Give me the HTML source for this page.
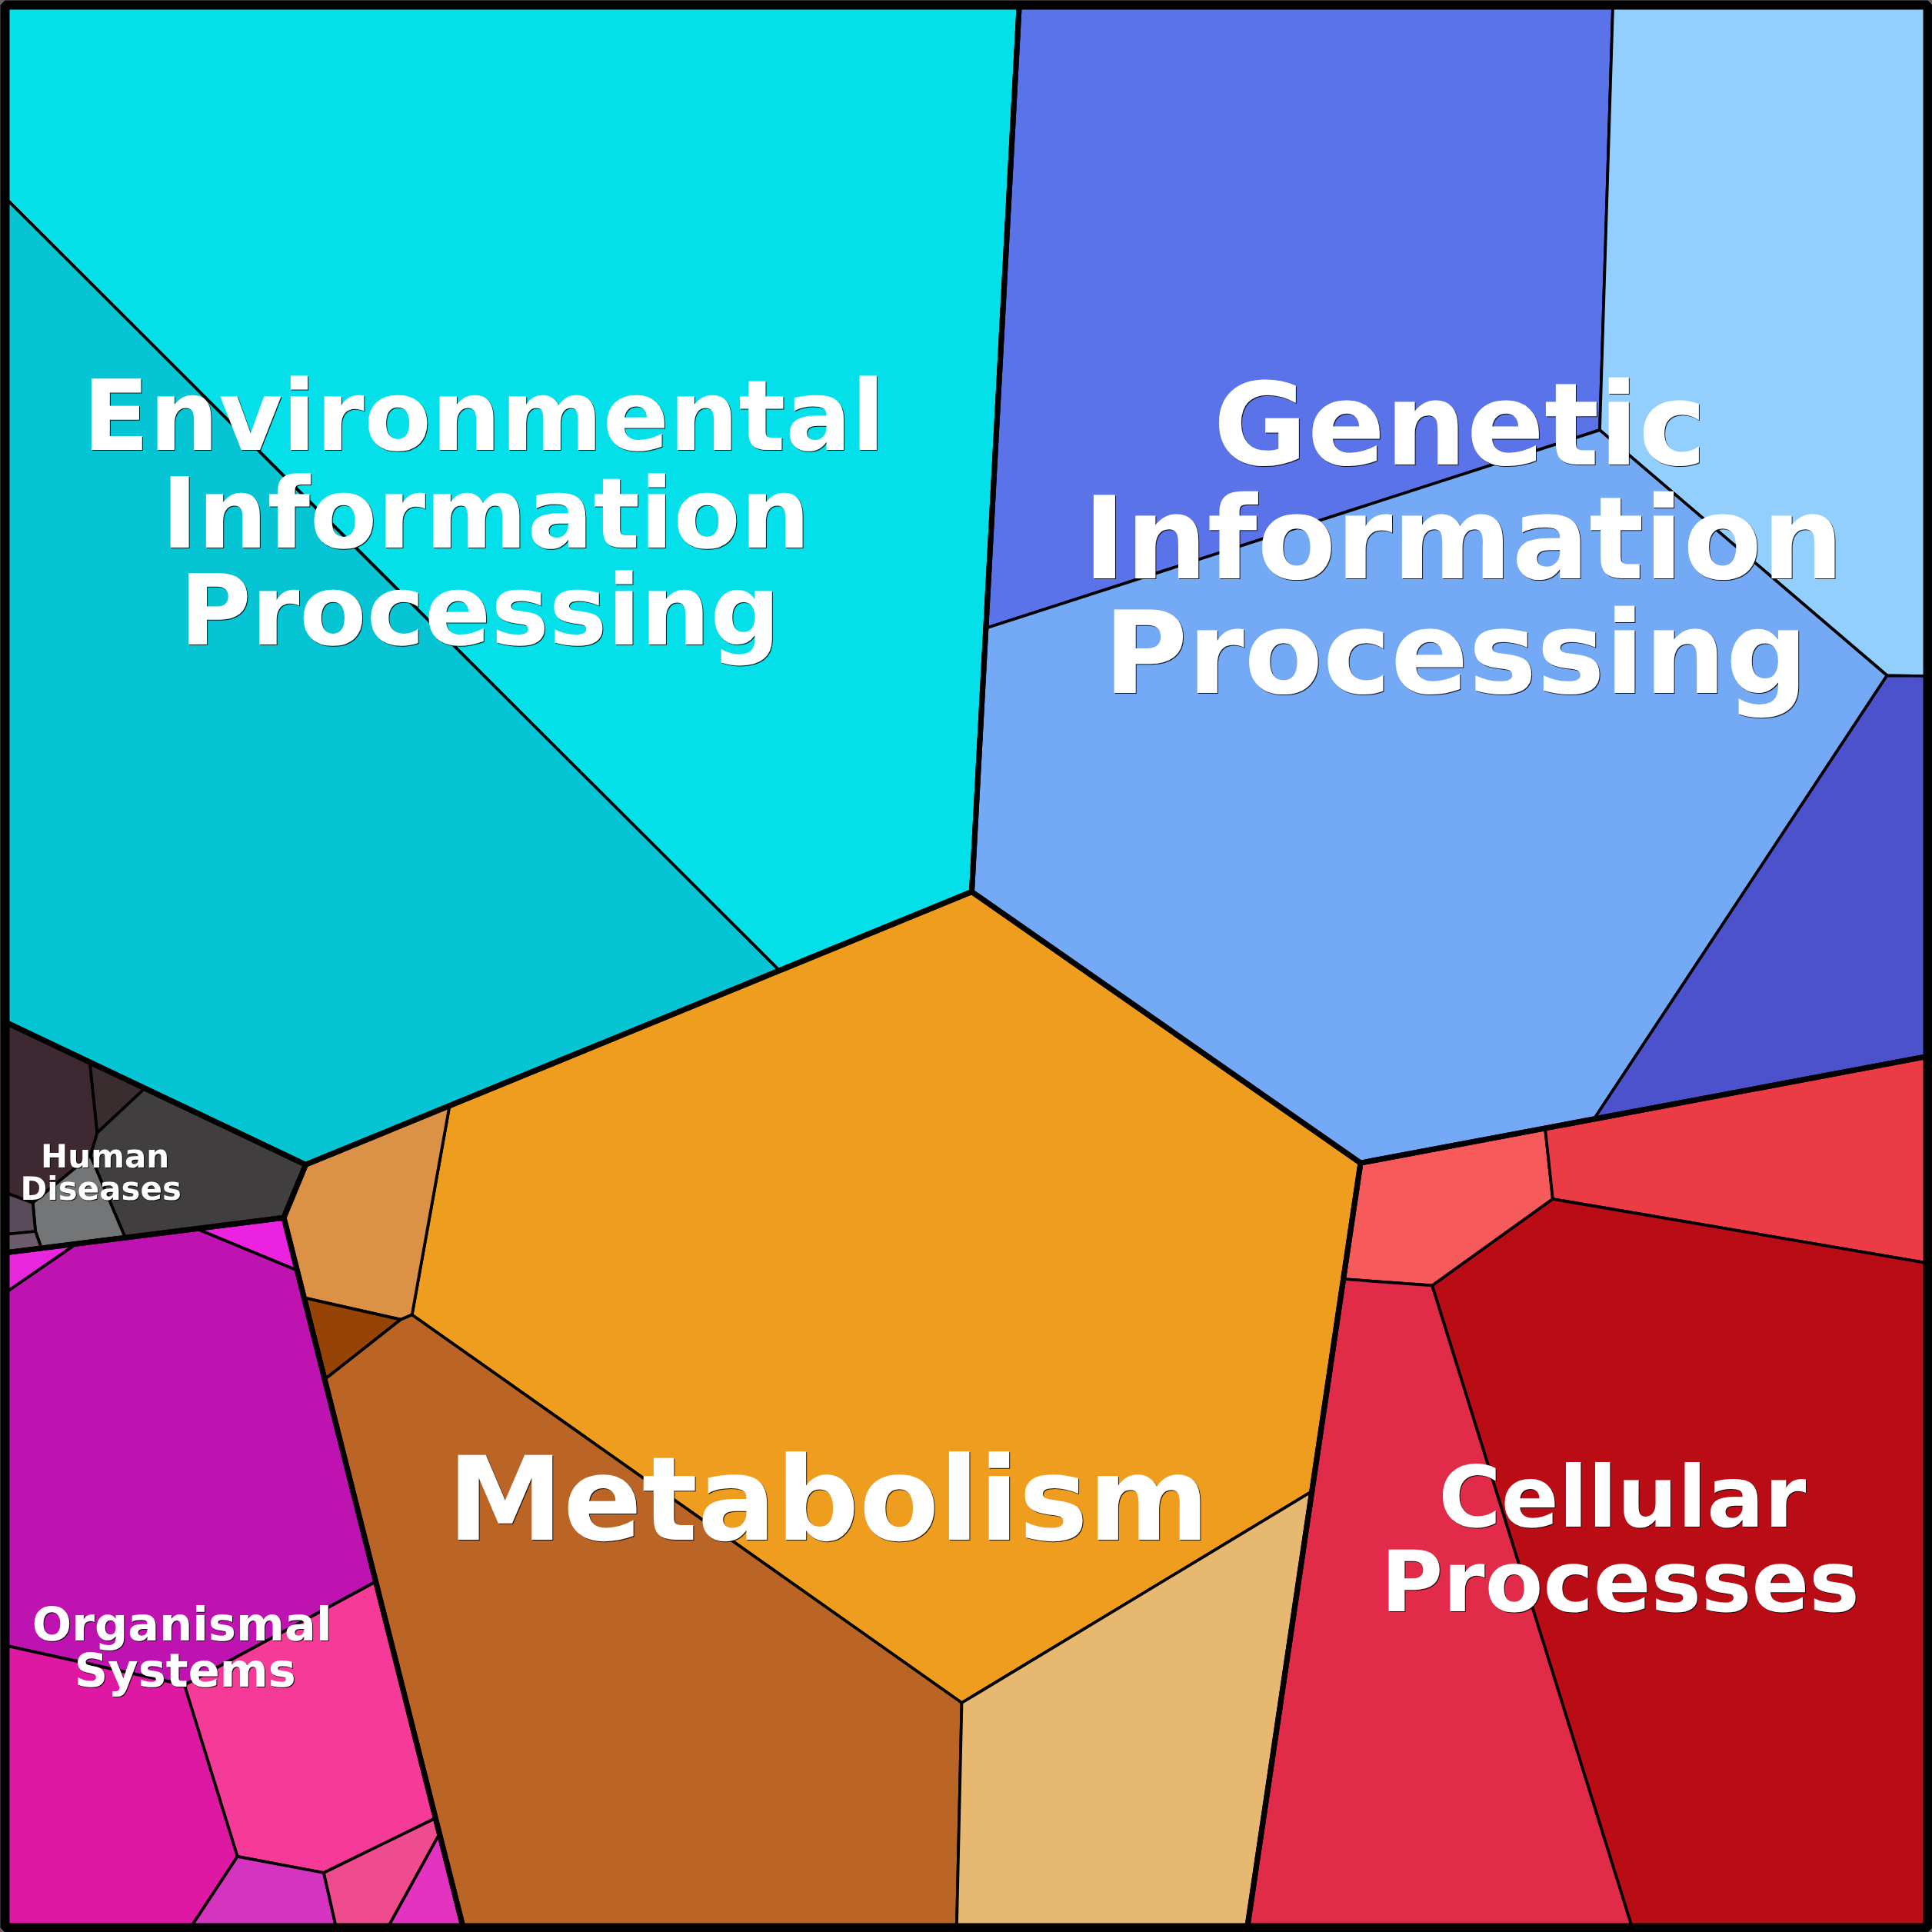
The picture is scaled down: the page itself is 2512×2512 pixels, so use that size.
<!DOCTYPE html>
<html lang="en">
<head>
<meta charset="utf-8">
<title>Voronoi treemap</title>
<style>
html,body{margin:0;padding:0;background:#666;}
body{width:2512px;height:2512px;overflow:hidden;}
svg{display:block;will-change:transform;}
.sub polygon{stroke:#000;stroke-width:3.75;stroke-linejoin:round;}
.top polygon{fill:none;stroke:#000;stroke-width:7.0;stroke-linejoin:round;}
.frame{fill:none;stroke:#000;stroke-width:12;stroke-linejoin:bevel;}
text{font-family:"DejaVu Sans","Liberation Sans",sans-serif;font-weight:bold;fill:#fff;text-rendering:geometricPrecision;}
.labels{filter:drop-shadow(1.1px 1px 0 rgba(0,0,0,.85));}
</style>
</head>
<body>
<svg width="2512" height="2512" viewBox="0 0 2512 2512">
<rect x="0" y="0" width="2512" height="2512" fill="#666"/>

<g class="sub">
<polygon fill="#04e0e9" points="6.5,6.5 1325.2,6.5 1263.5,1159.5 1013.3,1261.9 6.5,256.9"/>
<polygon fill="#05c5d5" points="6.5,256.9 1013.3,1261.9 397.5,1514.3 6.5,1328.7"/>
<polygon fill="#5a73e8" points="1325.2,6.5 2097.1,6.5 2080.0,559.1 1281.9,816.8"/>
<polygon fill="#93cffe" points="2097.1,6.5 2506.5,6.5 2506.5,879.0 2453.5,878.3 2080.0,559.1"/>
<polygon fill="#73a9f5" points="1281.9,816.8 2080.0,559.1 2453.5,878.3 2072.5,1455.0 1769.0,1512.1 1263.5,1159.5"/>
<polygon fill="#4b52cc" points="2453.5,878.3 2506.5,879.0 2506.5,1373.4 2072.5,1455.0"/>
<polygon fill="#ee9d1e" points="1263.5,1159.5 1769.0,1512.1 1705.7,1939.2 1250.5,2214.0 535.7,1709.5 584.5,1437.7"/>
<polygon fill="#db9246" points="397.5,1514.3 584.5,1437.7 535.7,1709.5 520.9,1715.7 395.4,1687.4 369.0,1583.2"/>
<polygon fill="#964306" points="395.4,1687.4 520.9,1715.7 422.2,1793.5"/>
<polygon fill="#ba6425" points="422.2,1793.5 520.9,1715.7 535.7,1709.5 1250.5,2214.0 1243.9,2506.5 602.3,2506.5"/>
<polygon fill="#e7b870" points="1250.5,2214.0 1705.7,1939.2 1621.7,2506.5 1243.9,2506.5"/>
<polygon fill="#f75a5a" points="1769.0,1512.1 2009.0,1466.9 2018.9,1559.0 1862.2,1671.4 1746.7,1663.0"/>
<polygon fill="#eb3c46" points="2009.0,1466.9 2506.5,1373.4 2506.5,1642.3 2018.9,1559.0"/>
<polygon fill="#e22b49" points="1746.7,1663.0 1862.2,1671.4 2122.3,2506.5 1621.7,2506.5"/>
<polygon fill="#ba0c15" points="1862.2,1671.4 2018.9,1559.0 2506.5,1642.3 2506.5,2506.5 2122.3,2506.5"/>
<polygon fill="#3e2933" points="6.5,1328.7 116.8,1381.1 126.4,1472.8 117.6,1502.5 42.7,1563.9 6.5,1550.4"/>
<polygon fill="#3a2d2f" points="116.8,1381.1 188.4,1415.0 126.4,1472.8"/>
<polygon fill="#413e3f" points="188.4,1415.0 397.5,1514.3 369.0,1583.2 162.8,1609.2 117.6,1502.5 126.4,1472.8"/>
<polygon fill="#747577" points="117.6,1502.5 162.8,1609.2 53.9,1622.9 46.1,1601.0 42.7,1563.9"/>
<polygon fill="#5a4b5b" points="6.5,1550.4 42.7,1563.9 46.1,1601.0 6.5,1605.0"/>
<polygon fill="#6c5c6e" points="6.5,1605.0 46.1,1601.0 53.9,1622.9 6.5,1628.9"/>
<polygon fill="#e826dd" points="6.5,1628.9 99.5,1617.2 6.5,1681.2"/>
<polygon fill="#eb22df" points="255.2,1597.5 369.0,1583.2 386.3,1651.8"/>
<polygon fill="#bf13b1" points="6.5,1681.2 99.5,1617.2 255.2,1597.5 386.3,1651.8 488.6,2056.5 239.9,2190.9 6.5,2139.4"/>
<polygon fill="#df18a4" points="6.5,2139.4 239.9,2190.9 308.8,2413.8 247.6,2506.5 6.5,2506.5"/>
<polygon fill="#f63a98" points="239.9,2190.9 488.6,2056.5 566.3,2364.0 421.0,2435.0 308.8,2413.8"/>
<polygon fill="#d434bf" points="308.8,2413.8 421.0,2435.0 437.1,2506.5 247.6,2506.5"/>
<polygon fill="#ef4c8d" points="421.0,2435.0 566.3,2364.0 571.4,2384.3 504.1,2506.5 437.1,2506.5"/>
<polygon fill="#e433c0" points="571.4,2384.3 602.3,2506.5 504.1,2506.5"/>
</g>
<g class="top">
<polygon points="6.5,6.5 1325.2,6.5 1263.5,1159.5 397.5,1514.3 6.5,1328.7"/>
<polygon points="1325.2,6.5 2506.5,6.5 2506.5,1373.4 1769.0,1512.1 1263.5,1159.5"/>
<polygon points="1263.5,1159.5 1769.0,1512.1 1621.7,2506.5 602.3,2506.5 369.0,1583.2 397.5,1514.3"/>
<polygon points="1769.0,1512.1 2506.5,1373.4 2506.5,2506.5 1621.7,2506.5"/>
<polygon points="6.5,1328.7 397.5,1514.3 369.0,1583.2 6.5,1628.9"/>
<polygon points="6.5,1628.9 369.0,1583.2 602.3,2506.5 6.5,2506.5"/>
</g>
<polygon class="frame" points="6.5,6.5 2506.5,6.5 2506.5,2506.5 6.5,2506.5"/>
<g class="labels">
<text x="107.2" y="585.0" font-size="127.1">Environmental</text>
<text x="210.0" y="712.0" font-size="127.1">Information</text>
<text x="233.5" y="838.0" font-size="127.1">Processing</text>
<text x="1577.6" y="604.0" font-size="149.0">Genetic</text>
<text x="1408.3" y="752.0" font-size="149.0">Information</text>
<text x="1435.0" y="901.0" font-size="149.0">Processing</text>
<text x="581.8" y="2002.0" font-size="151.2">Metabolism</text>
<text x="1870.6" y="1985.0" font-size="110.6">Cellular</text>
<text x="1795.6" y="2095.0" font-size="110.2">Processes</text>
<text x="53.1" y="1518.0" font-size="42.0">Human</text>
<text x="26.4" y="1560.0" font-size="42.0">Diseases</text>
<text x="41.8" y="2133.0" font-size="60.5">Organismal</text>
<text x="96.7" y="2193.0" font-size="60.5">Systems</text>
</g>
</svg>
</body>
</html>
